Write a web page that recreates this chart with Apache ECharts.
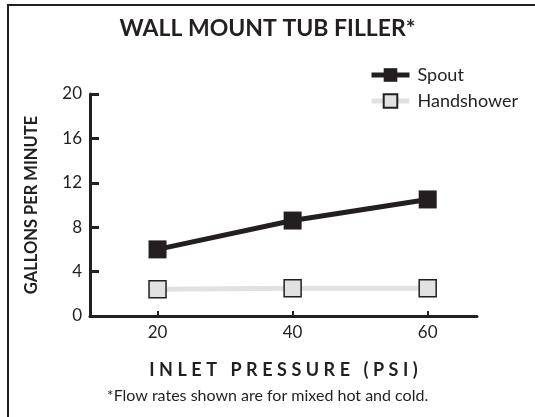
<!DOCTYPE html>
<html>
<head>
<meta charset="utf-8">
<script src="https://cdn.jsdelivr.net/npm/echarts@6/dist/echarts.min.js"></script>
<style>
  html, body { margin: 0; padding: 0; background: #fff; }
  #chart { width: 535px; height: 417px; }
</style>
</head>
<body>
<div id="chart"></div>
<script>
  const pressures = [20, 40, 60];
  const spout = [6.0, 8.6, 10.5];
  const handshower = [2.4, 2.5, 2.5];
  const yTicks = [0, 4, 8, 12, 16, 20];

  const ink = "#231f20";
  const light = "#e1e1e1";
  const font = "Lato";

  // the x axis title is letter-spaced in the original; thin spaces stand in for tracking
  const spaced = (s) => s.split(" ").map((w) => w.split("").join("\u2009\u2009")).join("\u2003");

  const chart = echarts.init(document.getElementById("chart"), null, { renderer: "canvas" });

  chart.setOption({
    animation: false,
    backgroundColor: "#fff",
    textStyle: { fontFamily: font, color: ink },
    graphic: [
      {
        type: "rect",
        shape: { x: 8, y: 5, width: 560, height: 440 },
        style: { fill: "none", stroke: ink, lineWidth: 2 },
        silent: true
      },
      {
        type: "text",
        left: "center",
        top: 388,
        style: {
          text: "*Flow rates shown are for mixed hot and cold.",
          font: "16px Lato",
          fill: ink
        }
      }
    ],
    title: {
      text: "WALL MOUNT TUB FILLER*",
      left: "center",
      top: 12,
      textStyle: { fontFamily: font, fontSize: 23, fontWeight: "bold", color: ink }
    },
    legend: {
      orient: "vertical",
      left: 364,
      top: 61,
      itemWidth: 38,
      itemHeight: 17,
      itemGap: 8,
      textStyle: { fontFamily: font, fontSize: 18, color: ink, padding: [0, 0, 0, 3] },
      data: [
        { name: "Spout", lineStyle: { width: 5, color: ink } },
        { name: "Handshower", lineStyle: { width: 5, color: light } }
      ]
    },
    grid: { left: 90, right: 58, top: 94, bottom: 101 },
    xAxis: {
      type: "value",
      min: 10,
      max: 67.3,
      name: spaced("INLET PRESSURE (PSI)"),
      nameLocation: "middle",
      nameGap: 45,
      nameTextStyle: { fontFamily: font, fontSize: 18, fontWeight: "bold", color: ink },
      axisLine: { lineStyle: { color: ink, width: 3 } },
      axisTick: { show: true, inside: true, length: 5, lineStyle: { color: ink, width: 2 }, customValues: pressures },
      axisLabel: { fontFamily: font, fontSize: 17, color: ink, margin: 8, customValues: pressures },
      splitLine: { show: false }
    },
    yAxis: {
      type: "value",
      min: 0,
      max: 20,
      interval: 4,
      name: "GALLONS PER MINUTE",
      nameLocation: "middle",
      nameGap: 50,
      nameTextStyle: { fontFamily: font, fontSize: 16.5, fontWeight: "bold", color: ink },
      axisLine: { show: true, lineStyle: { color: ink, width: 3 } },
      axisTick: { show: true, inside: true, length: 9, lineStyle: { color: ink, width: 3 }, customValues: yTicks },
      axisLabel: { fontFamily: font, fontSize: 17, color: ink, margin: 8, customValues: yTicks },
      splitLine: { show: false }
    },
    series: [
      {
        name: "Handshower",
        type: "line",
        data: pressures.map((p, i) => [p, handshower[i]]),
        symbol: "rect",
        symbolSize: 17,
        lineStyle: { color: light, width: 5 },
        itemStyle: { color: light, borderColor: ink, borderWidth: 1.5 },
        z: 2
      },
      {
        name: "Spout",
        type: "line",
        data: pressures.map((p, i) => [p, spout[i]]),
        symbol: "rect",
        symbolSize: 18,
        lineStyle: { color: ink, width: 5 },
        itemStyle: { color: ink, borderColor: ink, borderWidth: 0 },
        z: 3
      }
    ]
  });
</script>
</body>
</html>
